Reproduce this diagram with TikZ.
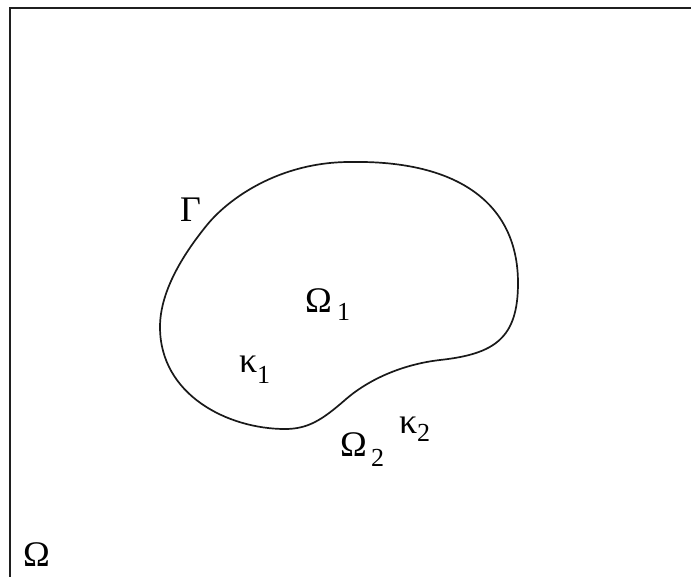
\documentclass[tikz,border=0pt]{standalone}
\usepackage{fontspec}
\setmainfont{Liberation Serif}
\begin{document}
\begin{tikzpicture}[x=1pt,y=-1pt,
  lbl/.style={inner sep=0pt,anchor=base west,font=\fontsize{36}{40}\selectfont},
  sub/.style={inner sep=0pt,anchor=base west,font=\fontsize{26}{30}\selectfont},
  frame/.style={line width=2.4pt,black!88},
  boundary/.style={line width=1.7pt,black!90}]
\useasboundingbox (0,0) rectangle (691,577);
\draw[frame] (10,577) -- (10,8) -- (691,8);
\draw[boundary] (350,162)
  .. controls (460,160) and (518,205) .. (518,283)
  .. controls (518,338) and (495,354) .. (440,360)
  .. controls (405,364) and (370,378) .. (345,400)
  .. controls (322,420) and (308,429) .. (285,429)
  .. controls (228,429) and (160,395) .. (160,327)
  .. controls (160,290) and (185,252) .. (207,225)
  .. controls (229,198) and (280,162) .. (350,162) -- cycle;
\node[lbl] (gamma) at (180,222) {Γ};
\node[lbl] (om1) at (305,313) {Ω};
\node[sub] (om1s) at (337,321) {1};
\node[lbl] (ka1) at (239,373) {κ};
\node[sub] (ka1s) at (257,383) {1};
\node[lbl] (om2) at (340,456) {Ω};
\node[sub] (om2s) at (371,466) {2};
\node[lbl] (ka2) at (399,433) {κ};
\node[sub] (ka2s) at (417,441) {2};
\node[lbl] (om) at (23,566) {Ω};
\end{tikzpicture}
\end{document}
